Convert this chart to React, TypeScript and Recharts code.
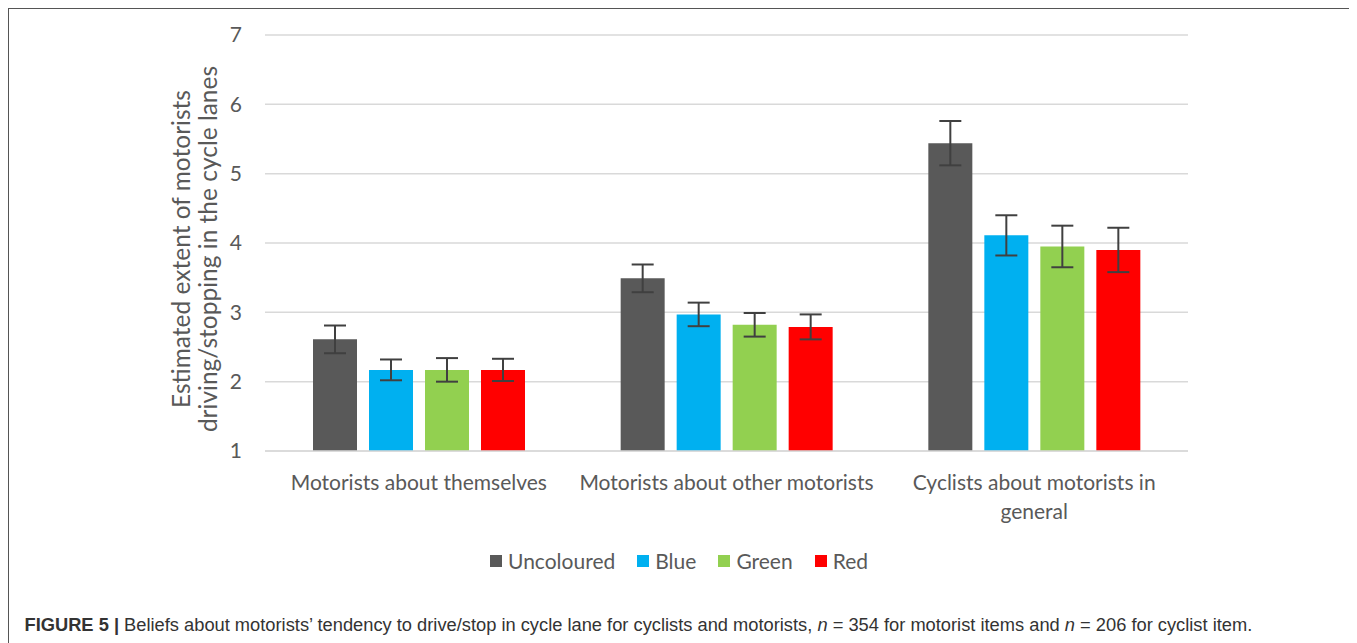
import React from "react";
import {
  BarChart,
  Bar,
  XAxis,
  YAxis,
  CartesianGrid,
  ErrorBar,
} from "recharts";

const categories = [
  "Motorists about themselves",
  "Motorists about other motorists",
  "Cyclists about motorists in general",
];

const uncoloured = [2.61, 3.49, 5.44];
const uncolouredErr = [0.2, 0.2, 0.32];
const blue = [2.17, 2.97, 4.11];
const blueErr = [0.15, 0.17, 0.29];
const green = [2.17, 2.82, 3.95];
const greenErr = [0.17, 0.17, 0.3];
const red = [2.17, 2.79, 3.9];
const redErr = [0.16, 0.18, 0.32];

const yTicks = [1, 2, 3, 4, 5, 6, 7];

const series = [
  { key: "uncoloured", name: "Uncoloured", color: "#595959" },
  { key: "blue", name: "Blue", color: "#00b0f0" },
  { key: "green", name: "Green", color: "#92d050" },
  { key: "red", name: "Red", color: "#ff0000" },
];

const data = categories.map((c, i) => ({
  category: c,
  uncoloured: uncoloured[i],
  uncolouredErr: uncolouredErr[i],
  blue: blue[i],
  blueErr: blueErr[i],
  green: green[i],
  greenErr: greenErr[i],
  red: red[i],
  redErr: redErr[i],
}));

const FONT = "Lato, 'Open Sans', sans-serif";
const TEXT_COLOR = "#595959";

// greedy word wrap by character count, like the category labels in the original
function wrapWords(text: string, maxChars: number) {
  const lines: string[] = [];
  let cur = "";
  text.split(" ").forEach((w) => {
    const next = cur ? cur + " " + w : w;
    if (next.length > maxChars && cur) {
      lines.push(cur);
      cur = w;
    } else {
      cur = next;
    }
  });
  if (cur) lines.push(cur);
  return lines;
}

function CategoryTick(props: any) {
  const { x, y, payload } = props;
  const lines = wrapWords(String(payload.value), 32);
  return (
    <text
      x={x}
      y={y}
      textAnchor="middle"
      fontSize={21}
      fontFamily={FONT}
      fill={TEXT_COLOR}
    >
      {lines.map((l, i) => (
        <tspan key={i} x={x} dy={i === 0 ? "0.71em" : 29}>
          {l}
        </tspan>
      ))}
    </text>
  );
}

function YLabel(props: any) {
  const { viewBox } = props;
  const cy = viewBox.y + viewBox.height / 2 + 6;
  const x1 = 172;
  const x2 = 199;
  return (
    <g>
      <text
        x={x1}
        y={cy}
        transform={`rotate(-90 ${x1} ${cy})`}
        textAnchor="middle"
        dominantBaseline="central"
        fontSize={24.5}
        fontFamily={FONT}
        fill={TEXT_COLOR}
      >
        Estimated extent of motorists
      </text>
      <text
        x={x2}
        y={cy}
        transform={`rotate(-90 ${x2} ${cy})`}
        textAnchor="middle"
        dominantBaseline="central"
        fontSize={24.5}
        fontFamily={FONT}
        fill={TEXT_COLOR}
      >
        driving/stopping in the cycle lanes
      </text>
    </g>
  );
}

export default function App() {
  return (
    <div
      style={{
        position: "relative",
        width: 1347,
        height: 640,
        boxSizing: "border-box",
        borderTop: "1.5px solid #555",
        borderLeft: "1.5px solid #555",
        borderRight: "1.5px solid #555",
        background: "#fff",
      }}
    >
      <div style={{ position: "absolute", left: -1.5, top: -1.5 }}>
        <BarChart
          width={1340}
          height={540}
          data={data}
          margin={{ top: 27, right: 160, left: 197, bottom: 37 }}
          barGap={12}
          barSize={44}
        >
          <CartesianGrid vertical={false} stroke="#d9d9d9" strokeWidth={1.5} />
          <XAxis
            dataKey="category"
            height={60}
            tickLine={false}
            axisLine={{ stroke: "#d9d9d9", strokeWidth: 1.5 }}
            tick={<CategoryTick />}
            tickMargin={18}
            interval={0}
          />
          <YAxis
            type="number"
            domain={[1, 7]}
            ticks={yTicks}
            width={60}
            tickLine={false}
            axisLine={false}
            tickMargin={17}
            tick={{ fontSize: 21, fontFamily: FONT, fill: TEXT_COLOR }}
            label={<YLabel />}
          />
          {series.map((s) => (
            <Bar
              key={s.key}
              dataKey={s.key}
              name={s.name}
              fill={s.color}
              isAnimationActive={false}
            >
              <ErrorBar
                dataKey={`${s.key}Err`}
                width={11}
                stroke="#404040"
                strokeWidth={2}
              />
            </Bar>
          ))}
        </BarChart>
      </div>
      <div
        style={{
          position: "absolute",
          top: 539,
          left: 0,
          width: 1340,
          display: "flex",
          justifyContent: "center",
          fontFamily: FONT,
          fontSize: 21,
          color: TEXT_COLOR,
          gap: 22,
        }}
      >
        {series.map((s) => (
          <div key={s.key} style={{ display: "flex", alignItems: "center" }}>
            <span
              style={{
                display: "inline-block",
                width: 12,
                height: 12,
                background: s.color,
                marginRight: 6,
              }}
            />
            <span>{s.name}</span>
          </div>
        ))}
      </div>
      <div
        style={{
          position: "absolute",
          top: 605,
          left: 15.5,
          fontFamily: "'Liberation Sans', Arial, sans-serif",
          fontSize: 18.3,
          color: "#333",
          whiteSpace: "nowrap",
        }}
      >
        <b>FIGURE 5 |</b> Beliefs about motorists’ tendency to drive/stop in cycle lane for cyclists and
        motorists, <i>n</i> = 354 for motorist items and <i>n</i> = 206 for cyclist item.
      </div>
    </div>
  );
}
